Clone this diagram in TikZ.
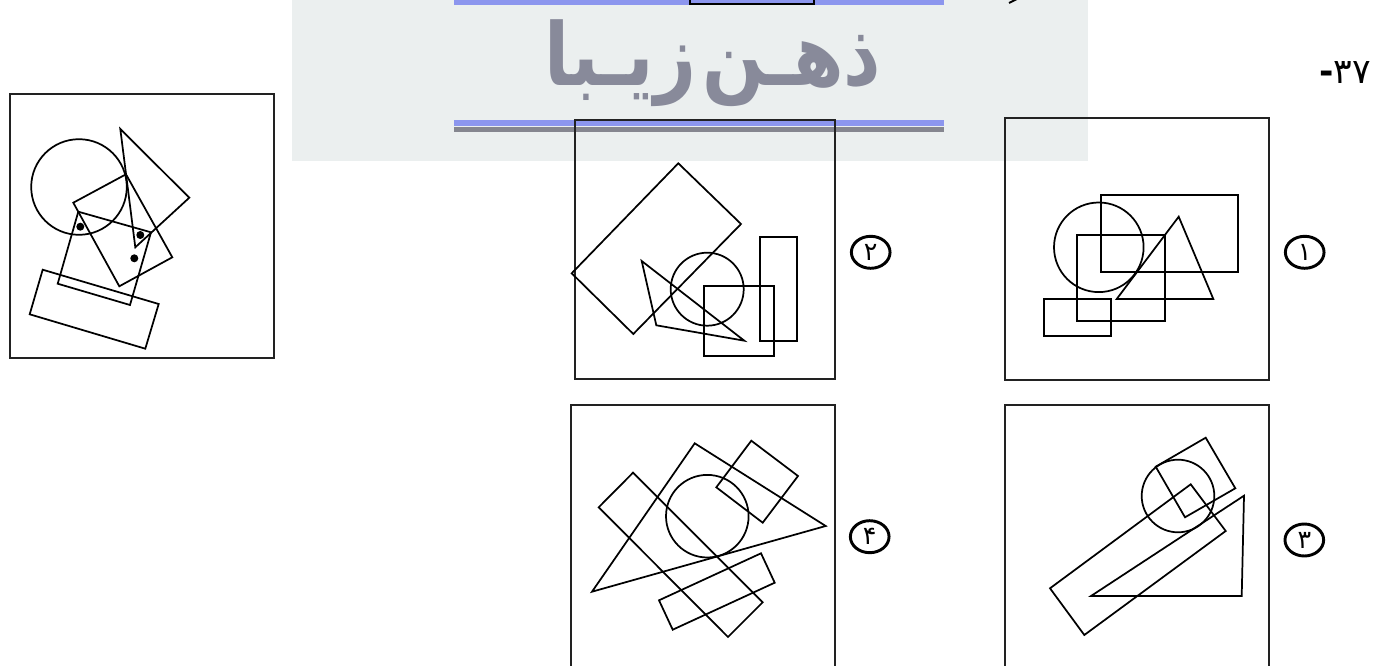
\documentclass[tikz,border=0pt]{standalone}
\usepackage{fontspec}
\usetikzlibrary{shapes.geometric}
\TeXXeTstate=1
\newfontfamily\arabicfont[Script=Arabic]{DejaVu Sans}
\newfontfamily\arabicbold[Script=Arabic]{DejaVu Sans Bold}
\newfontfamily\plainfont{DejaVu Sans Bold}
\definecolor{wmbg}{HTML}{EBEFEF}
\definecolor{wmblue}{HTML}{8C96EE}
\definecolor{wmgray}{HTML}{85868F}
\definecolor{wmtext}{HTML}{888A9A}
\definecolor{framec}{HTML}{222222}
\tikzset{
  x=0.75pt,y=-0.75pt,
  shapeline/.style={draw=black,line width=1.3pt,line join=miter},
  rectline/.style={draw=black,line width=1.3pt,line join=miter},
  framebox/.style={draw=framec,line width=1.5pt},
  dotmark/.style={fill=black,draw=none},
  optlabel/.style={draw=black,line width=2.2pt,ellipse,minimum width=29pt,minimum height=24pt,inner sep=0pt,font=\arabicfont\fontsize{19}{19}\selectfont},
}
\begin{document}
\begin{tikzpicture}
\useasboundingbox (0,0) rectangle (1373,666);
\clip (0,0) rectangle (1373,666);
% watermark
\fill[wmbg] (292,-5) rectangle (1088,161);
\fill[wmblue] (454,-5) rectangle (944,5);
\fill[wmblue] (454,120) rectangle (944,126);
\fill[wmgray] (454,127) rectangle (944,132);
\draw[rectline] (690,-8) rectangle (814,4);
\draw[shapeline,line width=1.5pt] (1017,-1) -- (1009,3);
\node[text=wmtext,font=\arabicbold\fontsize{65}{65}\selectfont,inner sep=0pt,xscale=0.842] (wm) at (713,63) {\beginR ذهـن\hspace{6pt}زیـبا\endR};
\node[font=\arabicfont\fontsize{26}{26}\selectfont,inner sep=0pt,anchor=east] (qnum) at (1371,73) {{\plainfont -}۳۷};
% reference figure
\draw[framebox] (10,94) rectangle (274,358);
\draw[shapeline] (79,187) circle[radius=47.8];
\draw[shapeline] (120.3,129) -- (189.3,197.7) -- (135.3,247.3) -- cycle;
\draw[shapeline] (126,174.3) -- (172.3,257.3) -- (119.3,286.3) -- (73.3,202.7) -- cycle;
\draw[shapeline] (78.3,211.7) -- (151,232.3) -- (130,305) -- (57.7,283.7) -- cycle;
\draw[shapeline] (42.7,269.7) -- (158.7,304) -- (145.3,348.7) -- (29.7,314.3) -- cycle;
\fill[dotmark] (80.3,226.7) circle[radius=4];
\fill[dotmark] (140.3,235) circle[radius=4];
\fill[dotmark] (134.3,258.3) circle[radius=4];
% option 2
\draw[framebox] (575,120) rectangle (835,379);
\draw[shapeline] (678.3,163.3) -- (741,224) -- (633.3,334) -- (571.7,273.3) -- cycle;
\draw[shapeline] (707.2,289.2) circle[radius=36.5];
\draw[rectline] (704,286) rectangle (774,356);
\draw[rectline] (760,237) rectangle (797,341);
\draw[shapeline] (641.7,261) -- (744.3,340.7) -- (656.3,325.3) -- cycle;
\node[optlabel] (opt2) at (870.7,252.3) {۲};
% option 1
\draw[framebox] (1005,118) rectangle (1269,380);
\draw[rectline] (1101,195) rectangle (1238,272);
\draw[shapeline] (1098.8,247.3) circle[radius=44.8];
\draw[rectline] (1077,235) rectangle (1165,321);
\draw[rectline] (1044,299) rectangle (1111,336);
\draw[shapeline] (1178.7,216.7) -- (1213.3,299) -- (1116.7,299) -- cycle;
\node[optlabel] (opt1) at (1304.7,252.3) {۱};
% option 4
\draw[framebox] (571,405) rectangle (835,690);
\draw[shapeline] (694.7,443.3) -- (825.7,526) -- (592,591.7) -- cycle;
\draw[shapeline] (707.3,516.2) circle[radius=41.3];
\draw[shapeline] (751.3,440.7) -- (798,476) -- (762.7,522.7) -- (716.3,487.3) -- cycle;
\draw[shapeline] (633,472.7) -- (762.7,602.3) -- (728,637) -- (598.7,507.3) -- cycle;
\draw[shapeline] (761,553.3) -- (774.7,582.7) -- (672.7,629.7) -- (659,600.3) -- cycle;
\node[optlabel] (opt4) at (869.7,536.7) {۴};
% option 3
\draw[framebox] (1005,405) rectangle (1269,690);
\draw[shapeline] (1205.7,437.7) -- (1235.3,488.3) -- (1185,517.3) -- (1155.7,466.7) -- cycle;
\draw[shapeline] (1178,496) circle[radius=36.3];
\draw[shapeline] (1190.7,484.3) -- (1225.7,531) -- (1084.3,635) -- (1050,588.3) -- cycle;
\draw[shapeline] (1244,495.7) -- (1241.7,596) -- (1091,596) -- cycle;
\node[optlabel] (opt3) at (1304.3,540) {۳};
\end{tikzpicture}
\end{document}
